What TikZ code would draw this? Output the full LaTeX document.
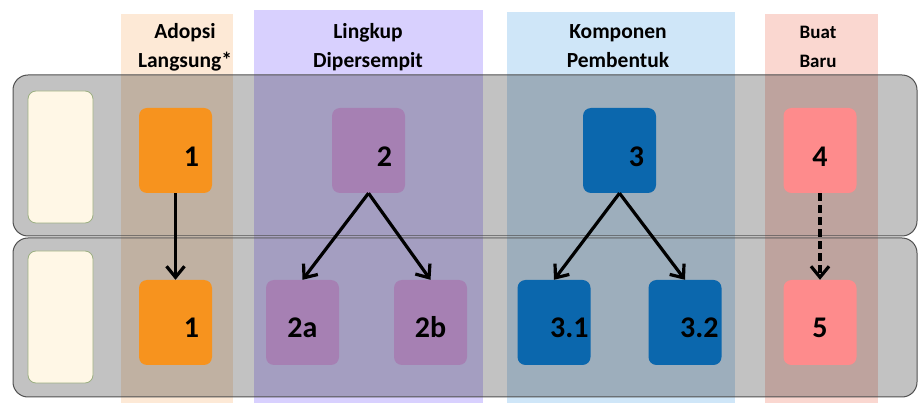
\documentclass[tikz,border=0pt]{standalone}
\usepackage{fontspec}
\setmainfont{Carlito}
\usetikzlibrary{arrows.meta}
\definecolor{bandO}{HTML}{FDE9D6}
\definecolor{bandP}{HTML}{D8D0FE}
\definecolor{bandB}{HTML}{CFE6F8}
\definecolor{bandK}{HTML}{FAD7D0}
\definecolor{boxO}{HTML}{F7931E}
\definecolor{boxP}{HTML}{A680B3}
\definecolor{boxB}{HTML}{0B67AD}
\definecolor{boxK}{HTML}{FE8B8C}
\definecolor{cream}{HTML}{FFF7E6}
\definecolor{creamline}{HTML}{9CAF82}
\definecolor{rowline}{HTML}{505050}
\tikzset{
  rowband/.style={fill=black, fill opacity=0.24, draw=rowline, draw opacity=1, line width=1pt, rounded corners=15pt},
  labelbox/.style={fill=cream, draw=creamline, line width=0.8pt, rounded corners=8pt},
  numbox/.style={rectangle, rounded corners=8pt, draw=none, minimum width=73pt, minimum height=85pt,
    font=\bfseries\fontsize{30}{32}\selectfont, text depth=0pt},
  toprow/.style={text height=33pt},
  botrow/.style={text height=30pt},
  ctr/.style={align=center, inner xsep=0pt, text width=73pt},
  head/.style={font=\bfseries\fontsize{21.5}{24}\selectfont, anchor=base, inner sep=0pt},
  heads/.style={font=\bfseries\fontsize{19}{22}\selectfont, anchor=base, inner sep=0pt},
  arr/.style={line width=3.2pt, -{Straight Barb[length=11pt, width=18pt, line width=3.2pt]}},
}
\begin{document}
\begin{tikzpicture}[x=1pt, y=-1pt]
\useasboundingbox (0,0) rectangle (919,403);
% column bands
\fill[bandO] (121,14) rectangle (233,403);
\fill[bandP] (254,10) rectangle (483,403);
\fill[bandB] (507,12) rectangle (735,403);
\fill[bandK] (765,14) rectangle (878,403);
% rows
\draw[rowband] (13,75) rectangle (917,236);
\draw[rowband] (13,238) rectangle (917,397);
% row label boxes
\draw[labelbox] (28,91) rectangle (93,223);
\draw[labelbox] (28,251) rectangle (93,383);
% headers
\node[head] (hA1) at (185,39) {Adopsi};
\node[head] (hA2) at (185,68) {Langsung*};
\node[head] (hL1) at (368,39) {Lingkup};
\node[head] (hL2) at (368,68) {Dipersempit};
\node[head] (hK1) at (618,39) {Komponen};
\node[head] (hK2) at (618,68) {Pembentuk};
\node[heads] (hB1) at (818,39) {Buat};
\node[heads] (hB2) at (818,68) {Baru};
% boxes
\node[numbox, toprow, fill=boxO, align=right, inner xsep=13pt, text width=47pt] (b1) at (175.5,150.5) {1};
\node[numbox, toprow, fill=boxP, align=right, inner xsep=13pt, text width=47pt] (b2) at (368.5,150.5) {2};
\node[numbox, toprow, fill=boxB, align=right, inner xsep=12pt, text width=49pt] (b3) at (619.5,150.5) {3};
\node[numbox, toprow, fill=boxK, ctr] (b4) at (820,150.5) {4};
\node[numbox, botrow, fill=boxO, align=right, inner xsep=13pt, text width=47pt] (c1) at (175.5,322.5) {1};
\node[numbox, botrow, fill=boxP, ctr] (c2a) at (302.5,322.5) {2a};
\node[numbox, botrow, fill=boxP, ctr] (c2b) at (430.5,322.5) {2b};
\node[numbox, botrow, fill=boxB, align=right, inner xsep=2pt, text width=69pt] (c31) at (554,322.5) {3.1};
\node[numbox, botrow, fill=boxB, align=right, inner xsep=3pt, text width=67pt] (c32) at (685,322.5) {3.2};
\node[numbox, botrow, fill=boxK, ctr] (c5) at (820,322.5) {5};
% arrows
\draw[arr] (b1.south) -- (c1.north);
\draw[arr] (b2.south) -- (c2a.north);
\draw[arr] (b2.south) -- (c2b.north);
\draw[arr] (b3.south) -- (c31.north);
\draw[arr] (b3.south) -- (c32.north);
\draw[arr, dash pattern=on 8pt off 4pt] (b4.south) -- (c5.north);
\end{tikzpicture}
\end{document}
